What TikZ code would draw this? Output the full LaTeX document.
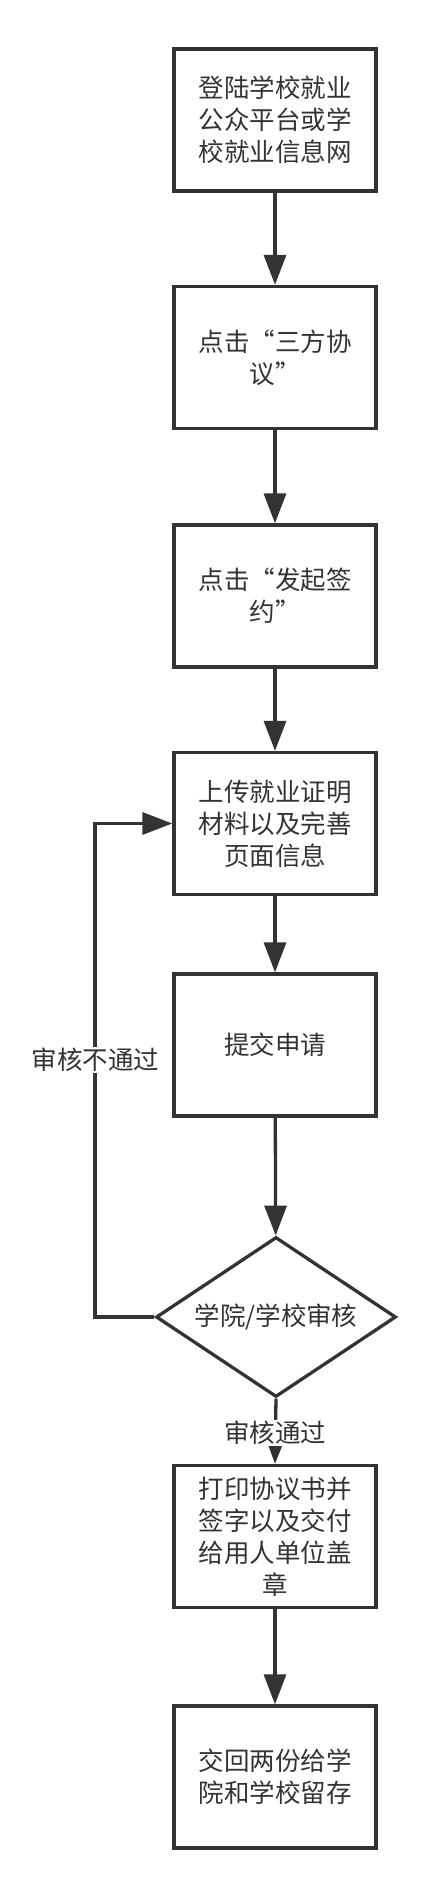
\documentclass[tikz,border=0pt]{standalone}
\usepackage{fontspec}
\newfontfamily\cjk{Noto Sans CJK SC}
\usetikzlibrary{arrows.meta,shapes.geometric}
\definecolor{ink}{HTML}{333333}
\begin{document}
\begin{tikzpicture}[x=1pt,y=-1pt,
  every node/.style={font=\cjk\fontsize{25.5}{32}\selectfont, text=ink},
  stepbox/.style={draw=ink, line width=3.3pt, minimum width=202pt, minimum height=142pt, inner sep=0pt, align=center},
  decide/.style={draw=ink, line width=3.3pt, diamond, minimum width=240pt, minimum height=160pt, inner sep=0pt, aspect=1.5},
  flow/.style={draw=ink, line width=3.3pt, -{Triangle[length=30pt,width=22pt]}},
  lbl/.style={fill=white, inner sep=1pt}]
\useasboundingbox (0,0) rectangle (445,1896);
\node[stepbox] (b1) at (275,120) {登陆学校就业\\公众平台或学\\校就业信息网};
\node[stepbox] (b2) at (275,357.5) {点击“三方协\\议”};
\node[stepbox] (b3) at (275,596) {点击“发起签\\约”};
\node[stepbox] (b4) at (275,823.5) {上传就业证明\\材料以及完善\\页面信息};
\node[stepbox] (b5) at (275,1045) {提交申请};
\node[decide] (d) at (276,1317) {学院/学校审核};
\node[stepbox] (b6) at (275,1536.5) {打印协议书并\\签字以及交付\\给用人单位盖\\章};
\node[stepbox] (b7) at (275,1777) {交回两份给学\\院和学校留存};
\coordinate (c1) at (95,1317);
\coordinate (c2) at (95,823.5);
\draw[flow] (b1) -- (b2);
\draw[flow] (b2) -- (b3);
\draw[flow] (b3) -- (b4);
\draw[flow] (b4) -- (b5);
\draw[flow] (b5) -- (d);
\draw[flow] (d.west) -- (c1) -- (c2) -- (b4.west);
\draw[flow] (d.south) -- (b6.north);
\draw[flow] (b6) -- (b7);
\node[lbl] (l1) at (95.5,1060) {审核不通过};
\node[lbl] (l2) at (275,1433) {审核通过};
\end{tikzpicture}
\end{document}
